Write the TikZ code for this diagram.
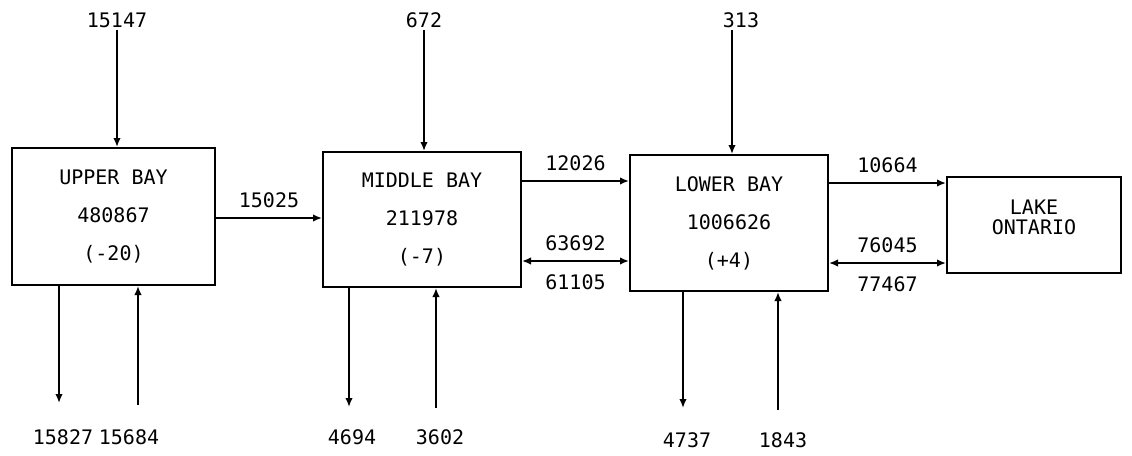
\documentclass[tikz,border=0pt]{standalone}
\usepackage{fontspec}
\newfontfamily\plotfont{DejaVu Sans Mono}
\usepackage{tikz}
\usetikzlibrary{arrows.meta, positioning, calc}

\begin{document}
\begin{tikzpicture}[
    x=0.5pt, y=-0.5pt,
    font=\plotfont\fontsize{10}{19}\selectfont,
    bay/.style={rectangle, draw, line width=1pt, align=center, inner sep=0pt},
    flow/.style={inner sep=0pt},
    arr/.style={-{Latex[length=4.5pt, width=3.8pt]}, line width=1pt},
    both/.style={{Latex[length=4.5pt, width=3.8pt]}-{Latex[length=4.5pt, width=3.8pt]}, line width=1pt}
]
    \useasboundingbox (0,0) rectangle (1132,456);

    % basins
    \node[bay, minimum width=101.5pt, minimum height=68.5pt] (upper) at (113.5,216.5) {UPPER BAY\\480867\\(-20)};
    \node[bay, minimum width=99pt, minimum height=67.5pt] (middle) at (422,219.5) {MIDDLE BAY\\211978\\(-7)};
    \node[bay, minimum width=99pt, minimum height=68pt] (lower) at (729,223) {LOWER BAY\\1006626\\(+4)};
    \node[bay, minimum width=87pt, minimum height=48pt] (lake) at (1034,225) {};
    \node[flow, align=center, font=\plotfont\fontsize{10}{10}\selectfont] (laketxt) at (1034,217) {LAKE\\ONTARIO};

    % inflows from the top
    \node[flow] (qu) at (117,20) {15147};
    \node[flow] (qm) at (424,20) {672};
    \node[flow] (ql) at (741,20) {313};
    \coordinate (tu) at (117,30);
    \coordinate (tm) at (424,30);
    \coordinate (tl) at (732,30);
    \draw[arr] (tu) -- (tu |- upper.north);
    \draw[arr] (tm) -- (tm |- middle.north);
    \draw[arr] (tl) -- (tl |- lower.north);

    % exchanges between basins
    \coordinate (yu) at (0,218);
    \coordinate (ym1) at (0,181);
    \coordinate (ym2) at (0,261);
    \coordinate (yl1) at (0,183);
    \coordinate (yl2) at (0,263);
    \draw[arr] (upper.east |- yu) -- node[above=4.5pt, flow]{15025} (middle.west |- yu);
    \draw[arr] (middle.east |- ym1) -- node[above=4.5pt, flow]{12026} (lower.west |- ym1);
    \draw[both] (middle.east |- ym2) -- node[above=4.5pt, flow]{63692} node[below=6.5pt, flow]{61105} (lower.west |- ym2);
    \draw[arr] (lower.east |- yl1) -- node[above=4.5pt, flow]{10664} (lake.west |- yl1);
    \draw[both] (lower.east |- yl2) -- node[above=4.5pt, flow]{76045} node[below=6.5pt, flow]{77467} (lake.west |- yl2);

    % outflows and returns at the bottom
    \coordinate (du) at (59,403);
    \coordinate (ru) at (138,405);
    \coordinate (dm) at (349,407);
    \coordinate (rm) at (436,408);
    \coordinate (dl) at (683,408);
    \coordinate (rl) at (778,410);
    \draw[arr] (du |- upper.south) -- (du);
    \draw[arr] (ru) -- (ru |- upper.south);
    \draw[arr] (dm |- middle.south) -- (dm);
    \draw[arr] (rm) -- (rm |- middle.south);
    \draw[arr] (dl |- lower.south) -- (dl);
    \draw[arr] (rl) -- (rl |- lower.south);
    \node[flow] (ou) at (63,437) {15827};
    \node[flow] (iu) at (129,437) {15684};
    \node[flow] (om) at (352,437) {4694};
    \node[flow] (im) at (440,437) {3602};
    \node[flow] (ol) at (687,440) {4737};
    \node[flow] (il) at (783,440) {1843};
\end{tikzpicture}
\end{document}
